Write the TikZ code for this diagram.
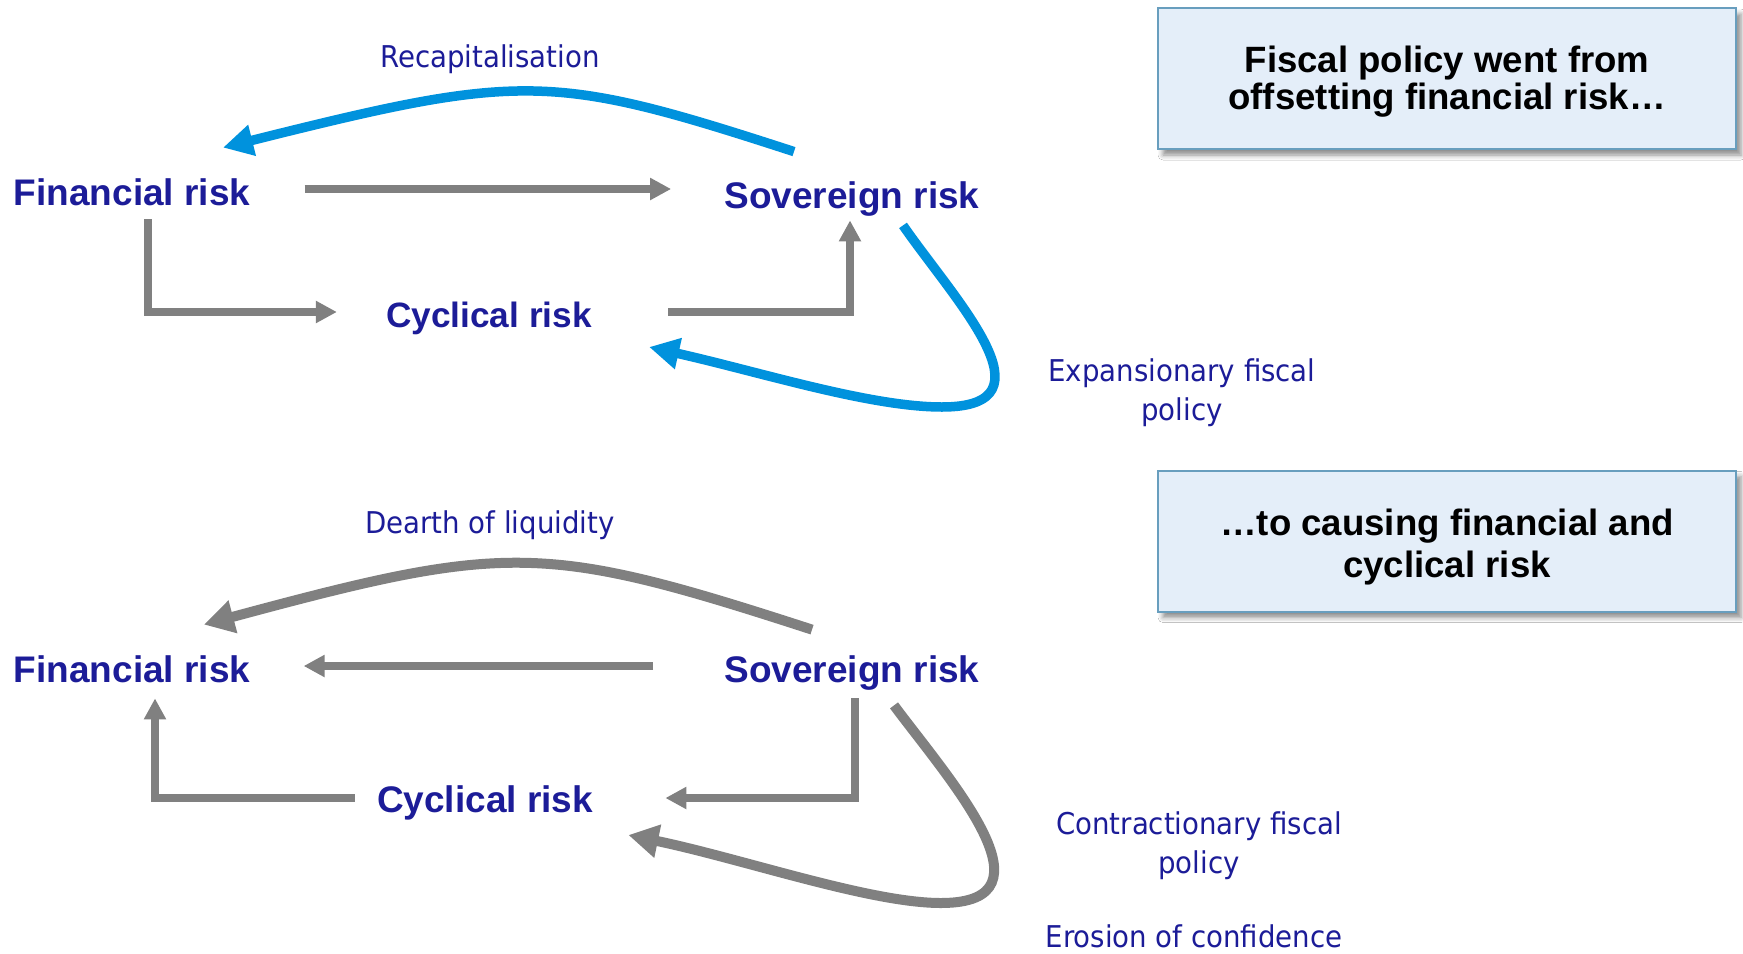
\documentclass[tikz,border=0pt]{standalone}
\usepackage{fontspec}
\usepackage{tikz}
\usetikzlibrary{arrows.meta, calc, shadows.blur}

\newfontfamily\riskfont{Liberation Sans}
\newfontfamily\notefont[FakeStretch=0.92]{DejaVu Sans}

\definecolor{risknavy}{RGB}{28,28,152}
\definecolor{riskgrey}{RGB}{128,128,128}
\definecolor{riskblue}{RGB}{0,146,221}
\definecolor{boxfill}{RGB}{228,238,249}
\definecolor{boxline}{RGB}{104,158,190}

\tikzset{
  risk/.style={font=\riskfont\bfseries\fontsize{18.5}{21}\selectfont, text=risknavy,
    inner sep=0pt, text height=12pt, text depth=3pt, anchor=base},
  note/.style={font=\notefont\fontsize{15}{19.5}\selectfont, text=risknavy,
    inner sep=0pt, anchor=base, align=center},
  fbox/.style={draw=boxline, line width=1pt, fill=boxfill, minimum width=289pt,
    minimum height=70.5pt, align=center, text depth=0pt,
    font=\riskfont\bfseries\fontsize{18.3}{17}\selectfont,
    blur shadow={shadow xshift=2.5pt, shadow yshift=-3pt, shadow blur radius=2.5pt, shadow opacity=45}},
  gline/.style={draw=riskgrey, line width=3.9pt, >={Triangle[length=10.5pt, width=10.5pt]}},
  gcurve/.style={draw=riskgrey, line width=5pt, >={Triangle[length=15pt, width=16pt]}},
  bline/.style={draw=riskblue, line width=4.75pt, >={Triangle[length=15pt, width=15pt]}}
}

\begin{document}
\begin{tikzpicture}[x=0.5pt, y=-0.5pt, ->, line join=miter]
  \fill[white, -] (0,0) rectangle (1743,953);

  % fiscal policy offsetting financial risk
  \node[risk] (fin1) at (132,205) {Financial risk};
  \node[risk] (sov1) at (852,208) {Sovereign risk};
  \node[risk, font=\riskfont\bfseries\fontsize{17.6}{21}\selectfont] (cyc1) at (489,327) {Cyclical risk};
  \node[note] (recap) at (490,67) {Recapitalisation};
  \node[note] (expand) at (1182,420) {Expansionary fiscal\\policy};
  \node[fbox, text height=30.5pt] (box1) at (1447,78.5) {Fiscal policy went from\\offsetting financial risk…};
  \coordinate (loop1) at (942,407);

  \draw[gline] ($(fin1.east)+(54,-7)$) -- ($(sov1.west)+(-53,-10)$);
  \draw[gline] ($(fin1.south)+(16,8)$) |- ($(cyc1.west)+(-49,-6)$);
  \draw[gline] ($(cyc1.east)+(76,-6)$) -| ($(sov1.south)+(-2,6)$);
  \draw[bline] ($(sov1.north)+(-58,-32)$) .. controls +(-243,-79) and +(300,-75) .. ($(fin1.north)+(91,-33)$);
  \draw[bline] ($(sov1.south)+(51,11)$) .. controls +(52,75) and +(116,0) .. (loop1)
    .. controls +(-72,0) and +(111,25) .. ($(cyc1.east)+(57,29)$);

  % fiscal policy causing financial and cyclical risk
  \node[risk] (fin2) at (132,682) {Financial risk};
  \node[risk] (sov2) at (852,682) {Sovereign risk};
  \node[risk] (cyc2) at (485,812) {Cyclical risk};
  \node[note] (dearth) at (490,533) {Dearth of liquidity};
  \node[note] (contract) at (1199,873) {Contractionary fiscal\\policy};
  \node[note] (erosion) at (1194,947) {Erosion of confidence};
  \node[fbox, text height=36pt, font=\riskfont\bfseries\fontsize{18.3}{21}\selectfont] (box2) at (1447,541)
    {…to causing financial and\\cyclical risk};
  \coordinate (loop2) at (941,903);

  \draw[gline] ($(sov2.west)+(-71,-7)$) -- ($(fin2.east)+(53,-7)$);
  \draw[gline] ($(cyc2.west)+(-22,-5)$) -| ($(fin2.south)+(23,10)$);
  \draw[gline] ($(sov2.south)+(3,10)$) |- ($(cyc2.east)+(72,-5)$);
  \draw[gcurve] ($(sov2.north)+(-40,-28)$) .. controls +(-268,-87) and +(304,-82) .. ($(fin2.north)+(72,-33)$);
  \draw[gcurve] ($(sov2.south)+(42,17)$) .. controls +(56,75) and +(119,0) .. (loop2)
    .. controls +(-71,0) and +(115,24) .. ($(cyc2.east)+(35,32)$);
\end{tikzpicture}
\end{document}
